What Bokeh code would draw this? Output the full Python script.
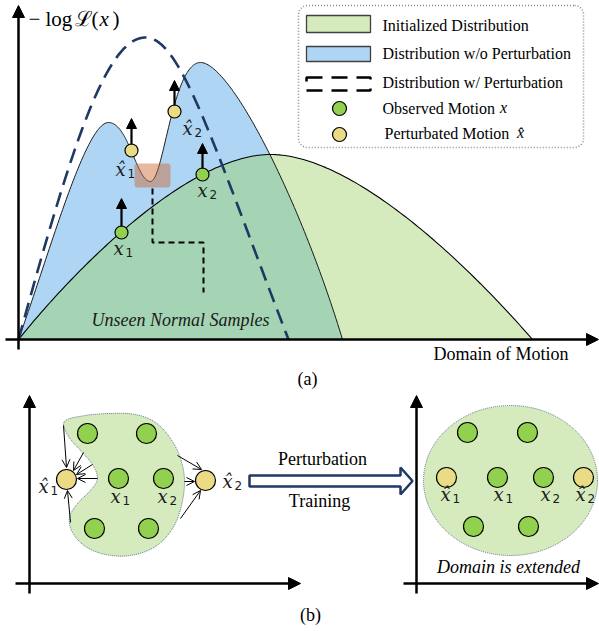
import numpy as np
from bokeh.plotting import figure
from bokeh.models import Range1d, Arrow, NormalHead, OpenHead
from bokeh.core.properties import value
from bokeh.embed import file_html
from bokeh.resources import INLINE

# ---------------- data (diagram coordinates, pixel units, y downward) ----------------
# panel (a) curves as cubic Bezier segments
green_curve = [[(18, 339), (80, 262), (190, 154), (270, 154)],
               [(270, 154), (345, 154), (450, 245), (532, 339)]]
blue_curve = [[(18, 339), (50, 250), (85, 122), (108, 122)],
              [(108, 122), (128, 122), (136, 181), (150, 181)],
              [(150, 181), (163, 181), (172, 62), (200, 62)],
              [(200, 62), (230, 62), (300, 200), (342, 339)]]
dash_curve = [[(18, 339), (70, 150), (105, 37), (145, 37)],
              [(145, 37), (180, 37), (211, 139), (288, 339)]]
baseline_y = 339

# points in panel (a)
obs_a_x, obs_a_y = [121, 202], [232, 174]
pert_a_x, pert_a_y = [131, 174], [150, 111]
arrow_tips_a_y = [198, 143, 118, 80]     # for x1, x2, x̂1, x̂2

staircase_x = [152, 152, 203, 203]
staircase_y = [188, 242, 242, 292]

# panel (b)
blob_outline = [(64, 421), (85, 415), (110, 413), (135, 414), (155, 422), (170, 438),
                (180, 458), (184, 480), (181, 505), (172, 528), (155, 546), (130, 555),
                (105, 554), (85, 546), (72, 532), (69, 517), (77, 503), (90, 490),
                (97, 478), (92, 464), (80, 450), (68, 436)]
blob_pts_x = [87, 146, 118, 163, 94, 148]
blob_pts_y = [433, 433, 478, 478, 528, 528]
blob_pert_x, blob_pert_y = [66, 205], [479, 480]
in_arrows = [((63, 425), (66, 467)), ((83, 452), (73, 470)), ((92, 464), (76, 474)),
             ((97, 478), (77, 478)), ((70, 522), (67, 490)),
             ((177, 455), (201, 469)), ((184, 481), (194, 481)), ((180, 518), (200, 490))]
ext_center, ext_w, ext_h = (510, 480), 174, 150
ext_pts_x = [467, 527, 497, 543, 473, 528]
ext_pts_y = [432, 432, 477, 477, 526, 526]
ext_pert_x, ext_pert_y = [446, 583], [477, 477]

# math labels: (x, y, hat, subscript)
math_labels = [(118, 248, False, "1"), (202, 190, False, "2"), (120, 169, True, "1"), (187, 128, True, "2"),
               (43, 486, True, "1"), (115, 496, False, "1"), (162, 496, False, "2"), (227, 481, True, "2"),
               (445, 494, True, "1"), (498, 494, False, "1"), (545, 494, False, "2"), (580, 494, True, "2")]

legend_labels = ["Initialized Distribution", "Distribution w/o Perturbation",
                 "Distribution w/ Perturbation", "Observed Motion", "Perturbated Motion"]
legend_label_y = [25, 53, 82, 108, 133]

GREEN_FILL = "#d5ebbd"
BLUE_FILL = "#afd5f5"
OVERLAP = "#a4d4b4"
PT_GREEN = "#92d050"
PT_YELLOW = "#ecdb85"
NAVY = "#1f3864"
SERIF = value("Liberation Serif")


def bezier_path(segs, n=80):
    xs, ys = [], []
    t = np.linspace(0, 1, n)
    for (p0, p1, p2, p3) in segs:
        a, b, c, d = (1 - t) ** 3, 3 * (1 - t) ** 2 * t, 3 * (1 - t) * t ** 2, t ** 3
        xs.append(a * p0[0] + b * p1[0] + c * p2[0] + d * p3[0])
        ys.append(a * p0[1] + b * p1[1] + c * p2[1] + d * p3[1])
    return np.concatenate(xs), np.concatenate(ys)


def closed_spline(pts, n=14):
    P = np.array(pts, dtype=float)
    N = len(P)
    out = []
    t = np.linspace(0, 1, n, endpoint=False)[:, None]
    for i in range(N):
        p0, p1, p2, p3 = P[i - 1], P[i], P[(i + 1) % N], P[(i + 2) % N]
        out.append(0.5 * ((2 * p1) + (-p0 + p2) * t + (2 * p0 - 5 * p1 + 4 * p2 - p3) * t ** 2
                          + (-p0 + 3 * p1 - 3 * p2 + p3) * t ** 3))
    o = np.vstack(out)
    return o[:, 0], o[:, 1]


def rounded_rect(x0, y0, x1, y1, r, n=10):
    xs, ys = [], []
    for cx, cy, a0 in [(x1 - r, y0 + r, -90), (x1 - r, y1 - r, 0), (x0 + r, y1 - r, 90), (x0 + r, y0 + r, 180)]:
        a = np.radians(np.linspace(a0, a0 + 90, n))
        xs.extend(cx + r * np.cos(a))
        ys.extend(cy + r * np.sin(a))
    return xs, ys


p = figure(width=599, height=631, x_range=Range1d(0, 599), y_range=Range1d(631, 0),
           output_backend="svg", toolbar_location=None, x_axis_type=None, y_axis_type=None,
           min_border=0, outline_line_color=None)
for g in p.grid:
    g.visible = False

# ---------------- panel (a) ----------------
gx, gy = bezier_path(green_curve)
bx, by = bezier_path(blue_curve)
dx, dy = bezier_path(dash_curve)

p.patch(list(gx) + [gx[-1], gx[0]], list(gy) + [baseline_y, baseline_y], fill_color=GREEN_FILL, line_color=None)
p.patch(list(bx) + [bx[-1], bx[0]], list(by) + [baseline_y, baseline_y], fill_color=BLUE_FILL, line_color=None)
xs = np.linspace(bx[0], bx[-1], 500)
yo = np.maximum(np.interp(xs, gx, gy), np.interp(xs, bx, by))
p.patch(list(xs) + [xs[-1], xs[0]], list(yo) + [baseline_y, baseline_y], fill_color=OVERLAP, line_color=None)
p.line(gx, gy, line_color="black", line_width=1.1)
p.line(bx, by, line_color="#1a1a1a", line_width=1.0)
p.line(dx, dy, line_color=NAVY, line_width=2.6, line_dash="15 8")

# brown highlight box
rx, ry = rounded_rect(134, 163, 170, 187, 3)
p.patch(rx, ry, fill_color="#c8632d", fill_alpha=0.45, line_color=None)
p.line(staircase_x, staircase_y, line_color="black", line_width=2, line_dash="6 4")

# upward arrows
for x0, y0, yt in zip(obs_a_x + pert_a_x, obs_a_y + pert_a_y, arrow_tips_a_y):
    p.add_layout(Arrow(end=NormalHead(size=10, fill_color="black", line_color="black"),
                       x_start=x0, y_start=y0 - 6, x_end=x0, y_end=yt, line_width=2.2, line_color="black"))
p.scatter(obs_a_x, obs_a_y, size=13, fill_color=PT_GREEN, line_color="black", line_width=1.2)
p.scatter(pert_a_x, pert_a_y, size=13, fill_color=PT_YELLOW, line_color="black", line_width=1.2)

p.text(x=[180], y=[319], text=["Unseen Normal Samples"], text_font=SERIF, text_font_style="italic",
       text_font_size="18px", text_align="center", text_baseline="middle", text_color="#1a1a1a")

# axes (a)
p.add_layout(Arrow(end=NormalHead(size=12, fill_color="black", line_color="black"),
                   x_start=18, y_start=349, x_end=18, y_end=5, line_width=2.5))
p.add_layout(Arrow(end=NormalHead(size=12, fill_color="black", line_color="black"),
                   x_start=5, y_start=baseline_y, x_end=598, y_end=baseline_y, line_width=2.5))
p.text(x=[28, 45, 74, 91, 112], y=[18] * 5, text=["−", "log", "ℒ", "(", ")"],
       text_font=SERIF, text_font_size="21px", text_baseline="middle", text_align="left")
p.text(x=[99], y=[18], text=["x"], text_font=SERIF, text_font_style="italic",
       text_font_size="21px", text_baseline="middle", text_align="left")
p.text(x=[568], y=[353], text=["Domain of Motion"], text_font=SERIF, text_font_size="18px",
       text_align="right", text_baseline="middle")
p.text(x=[307], y=[378], text=["(a)"], text_font=SERIF, text_font_size="18px",
       text_align="center", text_baseline="middle")

# legend
lx, ly = rounded_rect(298, 5, 583, 147, 9)
p.patch(lx, ly, fill_color="white", fill_alpha=0.0, line_color="#8c8c8c", line_width=1.6, line_dash="1 2")
p.quad(left=[306], right=[370], top=[15], bottom=[32], fill_color=GREEN_FILL, line_color="#404040", line_width=1.3)
p.quad(left=[306], right=[370], top=[46], bottom=[61], fill_color=BLUE_FILL, line_color="#404040", line_width=1.3)
p.quad(left=[306], right=[370], top=[77], bottom=[90], fill_alpha=0, line_color="black", line_width=2.5,
       line_dash="16 9")
p.scatter([339], [108], size=14, fill_color=PT_GREEN, line_color="black", line_width=1.2)
p.scatter([339], [134], size=14, fill_color=PT_YELLOW, line_color="black", line_width=1.2)
p.text(x=[382, 382, 382, 382, 384], y=legend_label_y, text=legend_labels, text_font=SERIF,
       text_font_size="16px", text_baseline="middle", text_align="left")
p.text(x=[503, 520], y=[107, 132], text=["x", "x̂"], text_font=SERIF, text_font_style="italic",
       text_font_size="16px", text_baseline="middle", text_align="center")

# ---------------- panel (b) ----------------
for (xa, ya, xb, yb) in [(29, 593, 29, 395), (15, 583, 300, 583), (416, 593, 416, 395), (403, 583, 598, 583)]:
    p.add_layout(Arrow(end=NormalHead(size=12, fill_color="black", line_color="black"),
                       x_start=xa, y_start=ya, x_end=xb, y_end=yb, line_width=2.5))

sx, sy = closed_spline(blob_outline)
p.patch(sx, sy, fill_color=GREEN_FILL, line_color="#5f7189", line_width=1, line_dash="1 1")
for (s, e) in in_arrows:
    p.add_layout(Arrow(end=OpenHead(size=8, line_width=1, line_color="black"),
                       x_start=s[0], y_start=s[1], x_end=e[0], y_end=e[1], line_width=1, line_color="black"))
p.scatter(blob_pts_x, blob_pts_y, size=20, fill_color=PT_GREEN, line_color="black", line_width=1.2)
p.scatter(blob_pert_x, blob_pert_y, size=20, fill_color=PT_YELLOW, line_color="black", line_width=1.2)

# hollow arrow
p.patch([249, 400, 400, 412, 400, 400, 249], [475, 475, 467, 480.5, 494, 486, 486],
        fill_color="white", line_color=NAVY, line_width=2.5)
p.text(x=[322, 319], y=[458, 500], text=["Perturbation", "Training"], text_font=SERIF,
       text_font_size="18px", text_align="center", text_baseline="middle")

p.ellipse(x=[ext_center[0]], y=[ext_center[1]], width=ext_w, height=ext_h, fill_color=GREEN_FILL,
          line_color="#5f7189", line_width=1, line_dash="1 1")
p.scatter(ext_pts_x, ext_pts_y, size=20, fill_color=PT_GREEN, line_color="black", line_width=1.2)
p.scatter(ext_pert_x, ext_pert_y, size=20, fill_color=PT_YELLOW, line_color="black", line_width=1.2)
p.text(x=[508], y=[566], text=["Domain is extended"], text_font=SERIF, text_font_style="italic",
       text_font_size="18px", text_align="center", text_baseline="middle")
p.text(x=[310], y=[614], text=["(b)"], text_font=SERIF, text_font_size="18px",
       text_align="center", text_baseline="middle")

# math labels
mx = [m[0] for m in math_labels]
my = [m[1] for m in math_labels]
mt = ["x̂" if m[2] else "x" for m in math_labels]
p.text(x=mx, y=my, text=mt, text_font=value("DejaVu Serif"), text_font_style="italic",
       text_font_size="18px", text_align="center", text_baseline="middle", text_color="#1a1a1a")
p.text(x=[m[0] + 7 for m in math_labels], y=[m[1] + 4 for m in math_labels], text=[m[3] for m in math_labels],
       text_font=value("DejaVu Sans"), text_font_size="12px", text_align="left", text_baseline="middle",
       text_color="#1a1a1a")

open("out.html", "w").write(file_html(p, INLINE))
